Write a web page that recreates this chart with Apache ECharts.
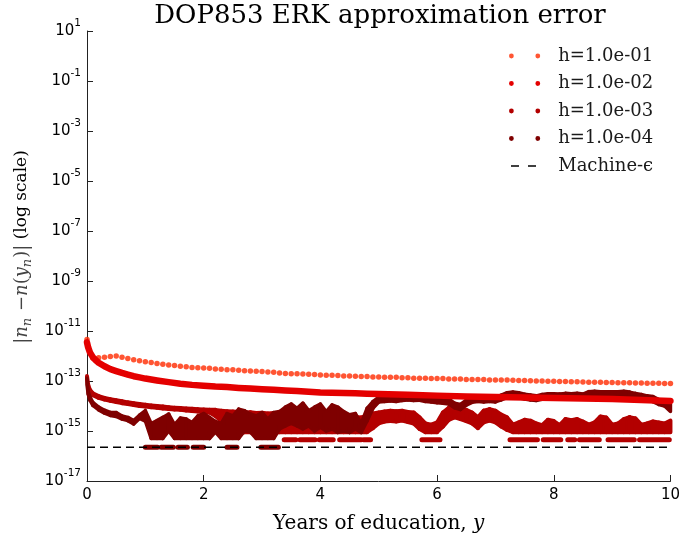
<!DOCTYPE html>
<html>
<head>
<meta charset="utf-8">
<script src="https://cdn.jsdelivr.net/npm/echarts@6/dist/echarts.min.js"></script>
<style>
  html, body { margin: 0; padding: 0; background: #ffffff; }
  #chart { width: 683px; height: 539px; }
</style>
</head>
<body>
<div id="chart"></div>
<script>
// Step sizes of the four runs, as shown in the legend
const stepLabels = ['h=1.0e-01', 'h=1.0e-02', 'h=1.0e-03', 'h=1.0e-04'];
const epsLabel = 'Machine-\u03f5';
const machineEps = 2.220446049250313e-16;

// h = 1e-1: one error sample every 0.1 years (x = index * 0.1)
const h1Errors = [
  4.6e-12, 8.3e-13, 8.6e-13, 9.0e-13, 9.6e-13, 1.0e-12, 9.0e-13, 8.0e-13, 7.1e-13, 6.5e-13,
  5.9e-13, 5.5e-13, 5.0e-13, 4.7e-13, 4.4e-13, 4.2e-13, 3.9e-13, 3.7e-13, 3.5e-13, 3.4e-13,
  3.3e-13, 3.2e-13, 3.05e-13, 2.95e-13, 2.85e-13, 2.8e-13, 2.7e-13, 2.6e-13, 2.5e-13, 2.45e-13,
  2.4e-13, 2.3e-13, 2.25e-13, 2.1e-13, 2.0e-13, 1.95e-13, 1.95e-13, 1.9e-13, 1.85e-13, 1.8e-13,
  1.75e-13, 1.7e-13, 1.7e-13, 1.65e-13, 1.6e-13, 1.6e-13, 1.55e-13, 1.5e-13, 1.5e-13, 1.45e-13,
  1.45e-13, 1.4e-13, 1.4e-13, 1.4e-13, 1.35e-13, 1.35e-13, 1.3e-13, 1.3e-13, 1.3e-13, 1.25e-13,
  1.25e-13, 1.25e-13, 1.2e-13, 1.2e-13, 1.2e-13, 1.15e-13, 1.15e-13, 1.15e-13, 1.15e-13, 1.1e-13,
  1.1e-13, 1.1e-13, 1.1e-13, 1.07e-13, 1.05e-13, 1.05e-13, 1.03e-13, 1.0e-13, 1.0e-13, 9.8e-14,
  9.8e-14, 9.6e-14, 9.5e-14, 9.4e-14, 9.3e-14, 9.2e-14, 9.0e-14, 9.0e-14, 8.9e-14, 8.8e-14,
  8.7e-14, 8.6e-14, 8.5e-14, 8.5e-14, 8.4e-14, 8.3e-14, 8.2e-14, 8.1e-14, 8.1e-14, 8.0e-14,
  8.0e-14
];

// h = 1e-2: dense smooth trace, [year, error]
const h2Errors = [
  [0, 3.5e-12], [0.02, 2.2e-12], [0.05, 1.4e-12], [0.1, 9e-13], [0.15, 6.8e-13],
  [0.2, 5.4e-13], [0.3, 3.9e-13], [0.4, 3.0e-13], [0.5, 2.5e-13], [0.6, 2.1e-13],
  [0.7, 1.8e-13], [0.8, 1.55e-13], [0.9, 1.4e-13], [1.0, 1.25e-13], [1.2, 1.05e-13],
  [1.4, 9e-14], [1.6, 7.8e-14], [1.8, 7.0e-14], [2.0, 6.5e-14], [2.2, 6.0e-14],
  [2.4, 5.7e-14], [2.6, 5.3e-14], [2.8, 5.0e-14], [3.0, 4.7e-14], [3.2, 4.5e-14],
  [3.4, 4.2e-14], [3.6, 4.0e-14], [3.8, 3.7e-14], [4.0, 3.5e-14], [4.2, 3.4e-14],
  [4.4, 3.3e-14], [4.6, 3.2e-14], [4.8, 3.1e-14], [5.0, 3.0e-14], [5.5, 2.8e-14],
  [6.0, 2.6e-14], [6.5, 2.4e-14], [7.0, 2.3e-14], [7.5, 2.2e-14], [8.0, 2.1e-14],
  [8.5, 2.0e-14], [9.0, 1.9e-14], [9.5, 1.75e-14], [10.0, 1.6e-14]
];

// h = 1e-3: envelope of the dense cloud, [year, upper error, lower error]
const h3Band = [
  [0, 1.6e-13, 1.2e-13], [0.02, 7e-14, 5.5e-14], [0.05, 4.4e-14, 3.6e-14], [0.1, 3.2e-14, 2.7e-14],
  [0.2, 2.5e-14, 2.1e-14], [0.3, 2.1e-14, 1.8e-14], [0.4, 1.85e-14, 1.6e-14], [0.5, 1.7e-14, 1.45e-14],
  [0.6, 1.55e-14, 1.3e-14], [0.7, 1.4e-14, 1.2e-14], [0.8, 1.3e-14, 1.1e-14], [0.9, 1.2e-14, 1.0e-14],
  [1.0, 1.12e-14, 9.5e-15], [1.1, 1.05e-14, 9e-15], [1.2, 1.0e-14, 8.5e-15], [1.3, 9.5e-15, 8e-15],
  [1.4, 9e-15, 7.6e-15], [1.5, 8.6e-15, 7.3e-15], [1.6, 8.3e-15, 7e-15], [1.7, 8e-15, 6.6e-15],
  [1.8, 7.7e-15, 6.3e-15], [1.9, 7.5e-15, 6e-15], [2.0, 7.3e-15, 5.8e-15], [2.1, 7.1e-15, 5.5e-15],
  [2.2, 7e-15, 4e-15], [2.3, 6.5e-15, 2.5e-15], [2.4, 6.2e-15, 1.5e-15], [2.5, 6.0e-15, 9e-16],
  [2.6, 5.8e-15, 9e-16], [2.7, 5.5e-15, 9e-16], [2.8, 5.6e-15, 9e-16], [2.9, 5.2e-15, 9e-16],
  [3.0, 5.4e-15, 9e-16], [3.1, 5.0e-15, 9e-16], [3.2, 5.3e-15, 9e-16], [3.3, 5.0e-15, 9e-16],
  [3.4, 4.6e-15, 9e-16], [3.5, 4.8e-15, 9e-16], [3.6, 4.4e-15, 9e-16], [3.7, 4.6e-15, 9e-16],
  [3.8, 4.2e-15, 9e-16], [3.9, 4.5e-15, 9e-16], [4.0, 4.0e-15, 9e-16], [4.1, 4.4e-15, 9e-16],
  [4.2, 4.0e-15, 9e-16], [4.3, 4.3e-15, 9e-16], [4.4, 3.8e-15, 9e-16], [4.5, 4.0e-15, 9e-16],
  [4.6, 3.6e-15, 9e-16], [4.7, 3.5e-15, 9e-16], [4.8, 4.0e-15, 9e-16], [4.9, 5.0e-15, 1.3e-15],
  [5.0, 5.5e-15, 2e-15], [5.1, 6.0e-15, 2.4e-15], [5.2, 6.5e-15, 2.5e-15], [5.3, 6.2e-15, 2.4e-15],
  [5.4, 6.5e-15, 2.6e-15], [5.5, 5.8e-15, 2.3e-15], [5.6, 5.5e-15, 2e-15], [5.7, 3.5e-15, 1.2e-15],
  [5.8, 2.0e-15, 9e-16], [5.9, 1.8e-15, 9e-16], [6.0, 2.2e-15, 9e-16], [6.1, 5.5e-15, 1.5e-15],
  [6.2, 8.5e-15, 2.8e-15], [6.3, 9.5e-15, 3.5e-15], [6.4, 8.5e-15, 3.0e-15], [6.5, 7.0e-15, 2.5e-15],
  [6.6, 5.5e-15, 2e-15], [6.7, 3.5e-15, 1.3e-15], [6.8, 6.5e-15, 2.2e-15], [6.9, 7.5e-15, 2.6e-15],
  [7.0, 6.5e-15, 2.2e-15], [7.1, 4.5e-15, 1.5e-15], [7.2, 3.5e-15, 1.1e-15], [7.3, 1.8e-15, 9e-16],
  [7.4, 2.2e-15, 9e-16], [7.5, 2.8e-15, 9e-16], [7.6, 2.6e-15, 9e-16], [7.7, 2.0e-15, 9e-16],
  [7.8, 1.7e-15, 9e-16], [7.9, 2.8e-15, 9e-16], [8.0, 2.5e-15, 9e-16], [8.1, 1.7e-15, 9e-16],
  [8.2, 3.0e-15, 9e-16], [8.3, 2.7e-15, 9e-16], [8.4, 3.0e-15, 9e-16], [8.5, 2.4e-15, 9e-16],
  [8.6, 1.8e-15, 9e-16], [8.7, 2.2e-15, 9e-16], [8.8, 3.8e-15, 9e-16], [8.9, 3.5e-15, 9e-16],
  [9.0, 1.8e-15, 9e-16], [9.1, 2.0e-15, 9e-16], [9.2, 3.0e-15, 9e-16], [9.3, 3.6e-15, 9e-16],
  [9.4, 3.2e-15, 9e-16], [9.5, 1.8e-15, 9e-16], [9.6, 2.0e-15, 9e-16], [9.7, 2.4e-15, 9e-16],
  [9.8, 2.2e-15, 9e-16], [9.9, 2.0e-15, 9e-16], [10.0, 2.6e-15, 9e-16]
];
// h = 1e-3: stretches where the error sits on the 2-ulp level, [from year, to year]
const h3FloorLevel = 4.44e-16;
const h3FloorRuns = [
  [3.38, 3.58], [3.65, 3.91], [3.98, 4.22], [4.33, 4.7], [4.74, 4.86], [5.74, 6.05],
  [7.25, 7.72], [7.82, 8.12], [8.24, 8.36], [8.44, 8.78], [8.93, 9.38], [9.47, 9.98]
];

// h = 1e-4: envelope of the dense cloud, [year, upper error, lower error]
const h4Band = [
  [0, 1.3e-13, 7e-14], [0.02, 4e-14, 3e-14], [0.05, 2.3e-14, 1.7e-14], [0.1, 1.4e-14, 1.05e-14],
  [0.2, 9e-15, 7e-15], [0.3, 6.8e-15, 5.2e-15], [0.4, 5.5e-15, 4.2e-15], [0.5, 5.5e-15, 3.8e-15],
  [0.6, 4e-15, 3.0e-15], [0.7, 3.5e-15, 2.6e-15], [0.8, 2.6e-15, 1.9e-15], [0.9, 4.3e-15, 3.2e-15],
  [1.0, 6.5e-15, 2.5e-15], [1.1, 2.0e-15, 5e-16], [1.2, 2.6e-15, 5e-16], [1.3, 3.5e-15, 5e-16],
  [1.4, 4.8e-15, 1.0e-15], [1.5, 1.8e-15, 5e-16], [1.6, 3.3e-15, 5e-16], [1.7, 3.0e-15, 5e-16],
  [1.8, 2.2e-15, 5e-16], [1.9, 4.0e-15, 5e-16], [2.0, 5.0e-15, 5e-16], [2.1, 3.5e-15, 5e-16],
  [2.2, 2.4e-15, 9e-16], [2.3, 2.0e-15, 5e-16], [2.4, 5.0e-15, 5e-16], [2.5, 4.0e-15, 5e-16],
  [2.6, 7.5e-15, 5e-16], [2.7, 6.5e-15, 1.0e-15], [2.8, 4.8e-15, 9e-16], [2.9, 4.0e-15, 5e-16],
  [3.0, 5.5e-15, 5e-16], [3.1, 3.0e-15, 5e-16], [3.2, 5.5e-15, 5e-16], [3.3, 6.0e-15, 1.2e-15],
  [3.4, 9.0e-15, 1.6e-15], [3.5, 1.2e-14, 2.0e-15], [3.6, 8.0e-15, 1.6e-15], [3.7, 1.3e-14, 1.2e-15],
  [3.8, 6.5e-15, 1.6e-15], [3.9, 9.0e-15, 1.0e-15], [4.0, 1.2e-14, 1.4e-15], [4.1, 6.0e-15, 1.0e-15],
  [4.2, 1.1e-14, 1.2e-15], [4.3, 9.0e-15, 8.8e-16], [4.4, 6.0e-15, 1.0e-15], [4.5, 4.5e-15, 8.8e-16],
  [4.6, 5.0e-15, 1.2e-15], [4.7, 2.0e-15, 8.8e-16], [4.8, 8.0e-15, 2.5e-15], [4.9, 1.5e-14, 8e-15],
  [5.0, 2.25e-14, 1.44e-14], [5.1, 2.4e-14, 1.5e-14], [5.2, 2.5e-14, 1.6e-14], [5.3, 2.3e-14, 1.5e-14],
  [5.4, 2.55e-14, 1.65e-14], [5.5, 2.75e-14, 1.75e-14], [5.6, 2.55e-14, 1.65e-14], [5.7, 2.6e-14, 1.7e-14],
  [5.8, 2.3e-14, 1.5e-14], [5.9, 2.25e-14, 1.45e-14], [6.0, 2.1e-14, 1.35e-14], [6.1, 2.0e-14, 1.3e-14],
  [6.2, 1.9e-14, 1.2e-14], [6.3, 1.3e-14, 8.4e-15], [6.4, 1.15e-14, 7.2e-15], [6.5, 1.7e-14, 1.08e-14],
  [6.6, 2.2e-14, 1.4e-14], [6.7, 2.4e-14, 1.5e-14], [6.8, 2.25e-14, 1.45e-14], [6.9, 2.4e-14, 1.5e-14],
  [7.0, 2.25e-14, 1.45e-14], [7.1, 2.75e-14, 1.75e-14], [7.2, 3.4e-14, 2.15e-14], [7.3, 3.6e-14, 2.3e-14],
  [7.4, 3.4e-14, 2.15e-14], [7.5, 2.95e-14, 1.9e-14], [7.6, 2.75e-14, 1.75e-14], [7.7, 2.55e-14, 1.65e-14],
  [7.8, 2.9e-14, 1.85e-14], [7.9, 3.1e-14, 2.0e-14], [8.0, 3.1e-14, 2.0e-14], [8.1, 3.0e-14, 1.9e-14],
  [8.2, 3.2e-14, 2.05e-14], [8.3, 3.1e-14, 2.0e-14], [8.4, 3.25e-14, 2.1e-14], [8.5, 3.0e-14, 1.9e-14],
  [8.6, 3.75e-14, 2.4e-14], [8.7, 3.9e-14, 2.5e-14], [8.8, 3.75e-14, 2.4e-14], [8.9, 3.75e-14, 2.4e-14],
  [9.0, 3.75e-14, 2.4e-14], [9.1, 3.75e-14, 2.4e-14], [9.2, 3.9e-14, 2.5e-14], [9.3, 3.6e-14, 2.3e-14],
  [9.4, 3.2e-14, 2.05e-14], [9.5, 2.9e-14, 1.85e-14], [9.6, 2.55e-14, 1.65e-14], [9.7, 2.4e-14, 1.5e-14],
  [9.8, 1.8e-14, 1.15e-14], [9.9, 1.55e-14, 1.0e-14], [10.0, 1.2e-14, 6e-15]
];
// h = 1e-4: stretches where the error sits on the 1-ulp level, [from year, to year]
const h4FloorLevel = machineEps;
const h4FloorRuns = [
  [1.0, 1.21], [1.27, 1.48], [1.56, 1.72], [1.82, 2.0], [2.4, 2.57], [2.98, 3.28]
];

// Axis ticks
const xTicks = { min: 0, max: 10, step: 2 };
const yDecades = { min: -17, max: 1, step: 2 };

const colors = ['#ff2a00', '#e40000', '#b30000', '#7f0000'];
const serif = 'DejaVu Serif';
const sans = 'DejaVu Sans';

// ---- helpers turning the arrays above into series ----
function bandSegments(rows) {
  const out = [];
  for (let i = 0; i < rows.length - 1; i++) {
    const a = rows[i], b = rows[i + 1];
    out.push([a[0], a[1], a[2], b[0], b[1], b[2]]);
  }
  return out;
}
function bandSeries(name, rows, color, width) {
  return {
    name: name,
    type: 'custom',
    coordinateSystem: 'cartesian2d',
    itemStyle: { color: color },
    data: bandSegments(rows),
    encode: { x: [0, 3], y: [1, 2, 4, 5] },
    silent: true,
    renderItem: function (params, api) {
      const p1 = api.coord([api.value(0), api.value(1)]);
      const p2 = api.coord([api.value(3), api.value(4)]);
      const p3 = api.coord([api.value(3), api.value(5)]);
      const p4 = api.coord([api.value(0), api.value(2)]);
      return {
        type: 'polygon',
        shape: { points: [p1, p2, p3, p4] },
        style: { fill: color, stroke: color, lineWidth: width, lineJoin: 'round' }
      };
    }
  };
}
function floorSeries(name, runs, level, color) {
  return {
    name: name,
    type: 'custom',
    coordinateSystem: 'cartesian2d',
    itemStyle: { color: color },
    data: runs.map(r => [r[0], r[1], level]),
    encode: { x: [0, 1], y: 2 },
    silent: true,
    renderItem: function (params, api) {
      const a = api.coord([api.value(0), api.value(2)]);
      const b = api.coord([api.value(1), api.value(2)]);
      return {
        type: 'line',
        shape: { x1: a[0], y1: a[1], x2: b[0], y2: b[1] },
        style: { stroke: color, lineWidth: 5, lineCap: 'round' }
      };
    }
  };
}

const dotsIcon = 'path://M0,2.4a2.4,2.4 0 1,0 4.8,0a2.4,2.4 0 1,0 -4.8,0Z' +
  'M26.4,2.4a2.4,2.4 0 1,0 4.8,0a2.4,2.4 0 1,0 -4.8,0Z';
const dashIcon = 'path://M0,0h0.01v0.01h-0.01Z M31.19,4.79h0.01v0.01h-0.01Z' +
  'M2,1.65h8v1.5h-8Z M19,1.65h8v1.5h-8Z';

const chart = echarts.init(document.getElementById('chart'), null, { renderer: 'canvas' });

const option = {
  animation: false,
  backgroundColor: '#ffffff',
  grid: { left: 87, right: 10, top: 31, bottom: 53, containLabel: false },
  graphic: [{
    type: 'text', x: 380, y: 3, silent: true,
    style: {
      text: 'DOP853 ERK approximation error',
      font: '26px "' + serif + '"', fill: '#000', textAlign: 'center', textVerticalAlign: 'top'
    }
  }],
  legend: {
    orient: 'vertical', left: 504, top: 42,
    itemWidth: 31.2, itemHeight: 4.8, itemGap: 9.5,
    selectedMode: false,
    textStyle: { fontFamily: serif, fontSize: 18, color: '#1a1a1a', padding: [0, 0, 0, 13] },
    data: [
      { name: stepLabels[0], icon: dotsIcon, itemStyle: { color: colors[0] } },
      { name: stepLabels[1], icon: dotsIcon, itemStyle: { color: colors[1] } },
      { name: stepLabels[2], icon: dotsIcon, itemStyle: { color: colors[2] } },
      { name: stepLabels[3], icon: dotsIcon, itemStyle: { color: colors[3] } },
      { name: epsLabel, icon: dashIcon, itemStyle: { color: '#000' } }
    ]
  },
  xAxis: {
    type: 'value', min: xTicks.min, max: xTicks.max, interval: xTicks.step,
    name: '{t|Years of education, }{i|y}',
    nameLocation: 'middle', nameGap: 33,
    nameTextStyle: {
      rich: {
        t: { fontFamily: serif, fontSize: 20, color: '#000' },
        i: { fontFamily: serif, fontStyle: 'italic', fontSize: 20, color: '#000' }
      }
    },
    axisLine: { show: true, lineStyle: { color: '#222', width: 1 } },
    axisTick: { show: true, inside: true, length: 6, lineStyle: { color: '#222' } },
    axisLabel: { fontFamily: sans, fontSize: 15, color: '#000', margin: 7 },
    splitLine: { show: false }
  },
  yAxis: {
    type: 'log', logBase: 10,
    min: Math.pow(10, yDecades.min), max: Math.pow(10, yDecades.max), interval: yDecades.step,
    name: '{m||}{mi|n}{sb|n}{m| \u2212}{mi|n}{m|(}{mi|y}{sb|n}{m|)|}{t| (log scale)}',
    nameLocation: 'middle', nameRotate: 90, nameGap: 52,
    nameTextStyle: {
      padding: [0, 0, 0, 18],
      rich: {
        m: { fontFamily: serif, fontSize: 18, color: '#444', padding: [0, 0, 3, 0] },
        mi: { fontFamily: serif, fontStyle: 'italic', fontSize: 18, color: '#444', padding: [0, 0, 3, 0] },
        sb: { fontFamily: serif, fontStyle: 'italic', fontSize: 13, color: '#444', verticalAlign: 'bottom', padding: [0, 1, 0, 0] },
        t: { fontFamily: serif, fontSize: 17, color: '#000', padding: [0, 0, 3, 0] }
      }
    },
    axisLine: { show: true, lineStyle: { color: '#222', width: 1 } },
    axisTick: { show: true, inside: true, length: 6, lineStyle: { color: '#222' } },
    axisLabel: {
      margin: 6,
      formatter: function (v) {
        const e = Math.round(Math.log10(v));
        return '{b|10}{s|' + e + '}';
      },
      rich: {
        b: { fontFamily: sans, fontSize: 15, color: '#000', padding: [6, 0, 6, 0] },
        s: { fontFamily: sans, fontSize: 10.5, color: '#000', verticalAlign: 'top' }
      }
    },
    splitLine: { show: false },
    minorTick: { show: false }
  },
  series: [
    {
      name: stepLabels[0], type: 'scatter', symbol: 'circle', symbolSize: 5.5,
      itemStyle: { color: colors[0] }, silent: true,
      data: h1Errors.map((v, i) => [i * 0.1, v])
    },
    {
      name: stepLabels[1], type: 'line', showSymbol: false, smooth: false,
      itemStyle: { color: colors[1] },
      lineStyle: { color: colors[1], width: 6.5, cap: 'round', join: 'round' },
      data: h2Errors, silent: true
    },
    bandSeries(stepLabels[2], h3Band, colors[2], 4),
    floorSeries(stepLabels[2], h3FloorRuns, h3FloorLevel, colors[2]),
    bandSeries(stepLabels[3], h4Band, colors[3], 3.5),
    floorSeries(stepLabels[3], h4FloorRuns, h4FloorLevel, colors[3]),
    {
      name: epsLabel, type: 'line', showSymbol: false,
      itemStyle: { color: '#000' },
      lineStyle: { color: '#000', width: 1.5, type: [8, 5] },
      data: [[xTicks.min, machineEps], [xTicks.max, machineEps]], silent: true
    }
  ]
};

chart.setOption(option);
</script>
</body>
</html>
